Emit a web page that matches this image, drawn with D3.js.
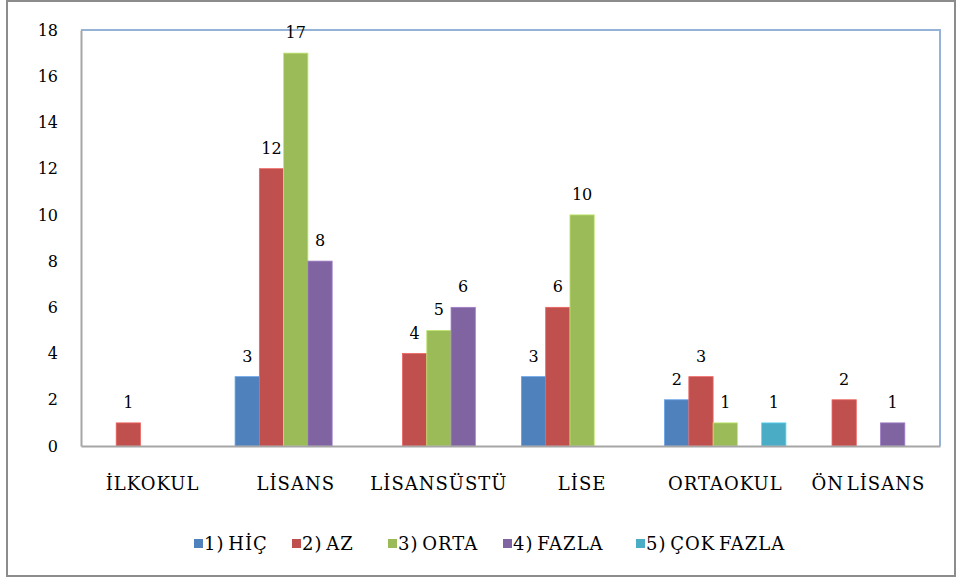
<!DOCTYPE html>
<html>
<head>
<meta charset="utf-8">
<script src="https://cdn.jsdelivr.net/npm/d3@7"></script>
<style>
body { margin: 0; background: #fff; }
svg text { font-family: "DejaVu Serif", "Liberation Serif", serif; fill: #000; }
</style>
</head>
<body>
<div id="chart"></div>
<script>
var categories = ["İLKOKUL", "LİSANS", "LİSANSÜSTÜ", "LİSE", "ORTAOKUL", "ÖN LİSANS"];
var seriesNames = ["1) HİÇ", "2) AZ", "3) ORTA", "4) FAZLA", "5) ÇOK FAZLA"];
var hic      = [null, 3, null, 3, 2, null];
var az       = [1, 12, 4, 6, 3, 2];
var orta     = [null, 17, 5, 10, 1, null];
var fazla    = [null, 8, 6, null, null, 1];
var cokFazla = [null, null, null, null, 1, null];
var yTicks = [0, 2, 4, 6, 8, 10, 12, 14, 16, 18];
var colors = ["#4f81bd", "#c0504d", "#9bbb59", "#8064a2", "#4bacc6"];

var allSeries = [hic, az, orta, fazla, cokFazla];
var fontFam = "'DejaVu Serif', 'Liberation Serif', serif";

var width = 958, height = 579;
var margin = {left: 81, top: 30, right: 18, bottom: 133};
var plotW = width - margin.left - margin.right;
var plotH = height - margin.top - margin.bottom;

var svg = d3.select("#chart").append("svg")
    .attr("width", width)
    .attr("height", height);

// outer frame
svg.append("rect")
    .attr("x", 7).attr("y", 1)
    .attr("width", 948).attr("height", 575)
    .attr("fill", "none")
    .attr("stroke", "#8c8c8c")
    .attr("stroke-width", 2);

var g = svg.append("g")
    .attr("transform", "translate(" + margin.left + "," + margin.top + ")");

var x0 = d3.scaleBand().domain(categories).range([0, plotW]).padding(0);
var x1 = d3.scaleBand().domain(d3.range(seriesNames.length))
    .range([0, x0.bandwidth()]).paddingOuter(0.45).paddingInner(0);
var y = d3.scaleLinear().domain([0, 18]).range([plotH, 0]);

// plot border (top/right light blue)
g.append("path")
    .attr("d", "M0,0H" + plotW + "V" + plotH)
    .attr("fill", "none")
    .attr("stroke", "#95b3d7")
    .attr("stroke-width", 2);

// bars + value labels
allSeries.forEach(function (vals, s) {
    var data = categories.map(function (c, i) { return {cat: c, v: vals[i]}; })
        .filter(function (d) { return d.v != null; });
    g.selectAll(".bar" + s)
        .data(data)
        .enter()
        .append("rect")
        .attr("x", function (d) { return x0(d.cat) + x1(s); })
        .attr("y", function (d) { return y(d.v); })
        .attr("width", x1.bandwidth())
        .attr("height", function (d) { return y(0) - y(d.v); })
        .attr("fill", colors[s])
        .attr("stroke", d3.color(colors[s]).brighter(0.6))
        .attr("stroke-width", 0.8);
    g.selectAll(".lbl" + s)
        .data(data)
        .enter()
        .append("text")
        .attr("x", function (d) { return x0(d.cat) + x1(s) + x1.bandwidth() / 2; })
        .attr("y", function (d) { return y(d.v) - 15; })
        .attr("text-anchor", "middle")
        .style("font-size", "16px")
        .text(function (d) { return d.v; });
});

// y axis
var yAxis = g.append("g")
    .call(d3.axisLeft(y).tickValues(yTicks).tickSize(0).tickPadding(23));
yAxis.select(".domain").attr("stroke", "#a6a6a6").attr("stroke-width", 2);
yAxis.selectAll("text").style("font-size", "16px").style("font-family", fontFam);

// x axis
var xAxis = g.append("g")
    .attr("transform", "translate(0," + plotH + ")")
    .call(d3.axisBottom(x0).tickSize(0).tickPadding(31));
xAxis.select(".domain").attr("stroke", "#a6a6a6").attr("stroke-width", 2);
xAxis.selectAll("text").style("font-size", "18px").style("font-family", fontFam)
    .style("letter-spacing", "1px").style("word-spacing", "-4px");

// legend
var legendX = [194, 292, 388, 503, 636];
var legend = svg.append("g").attr("transform", "translate(0,544)");
seriesNames.forEach(function (name, i) {
    legend.append("rect")
        .attr("x", legendX[i]).attr("y", -5)
        .attr("width", 9).attr("height", 9)
        .attr("fill", colors[i]);
    legend.append("text")
        .attr("x", legendX[i] + 10)
        .attr("y", 6)
        .style("font-size", "18px")
        .style("font-family", fontFam)
        .style("letter-spacing", "1px")
        .style("word-spacing", "-3px")
        .text(name);
});
</script>
</body>
</html>
